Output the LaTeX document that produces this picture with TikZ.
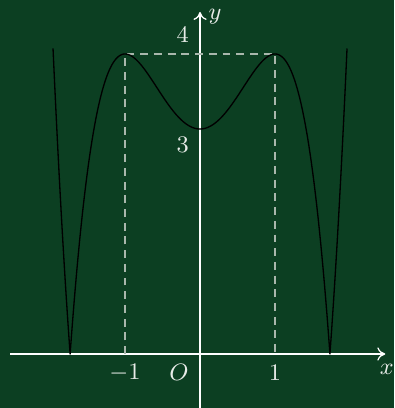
\documentclass[tikz,border=0pt]{standalone}
\usetikzlibrary{arrows.meta}
\definecolor{bg}{HTML}{0C3F22}
\definecolor{txt}{HTML}{E8ECE8}
\definecolor{dsh}{HTML}{A9B7AC}
\begin{document}
\begin{tikzpicture}[x=1cm,y=1cm,
  axis/.style={white,line width=0.5pt,-{To[length=3pt,width=5pt]}},
  guide/.style={dsh,line width=0.6pt,dash pattern=on 3pt off 2.2pt},
  curve/.style={black,line width=0.5pt,line join=round},
  lbl/.style={txt,font=\fontsize{9.5}{11}\selectfont,inner sep=0pt}]
\fill[bg] (-2.667,-0.72) rectangle (2.587,4.72);
\useasboundingbox (-2.667,-0.72) rectangle (2.587,4.72);
\coordinate (xs) at (-2.53,0);
\coordinate (xe) at (2.47,0);
\coordinate (ys) at (0,-0.72);
\coordinate (ye) at (0,4.56);
\coordinate (a0) at (-1,0);
\coordinate (a4) at (-1,4);
\coordinate (b0) at (1,0);
\coordinate (b4) at (1,4);
\draw[axis] (xs) -- (xe);
\draw[axis] (ys) -- (ye);
\draw[guide] (a0) -- (a4) -- (b4) -- (b0);
\draw[curve] plot[domain=-1.96:-1.7320508,samples=20] (\x,{abs(((\x)^2-1)^2-4)})
  -- plot[domain=-1.7320508:1.7320508,samples=200] (\x,{abs(((\x)^2-1)^2-4)})
  -- plot[domain=1.7320508:1.96,samples=20] (\x,{abs(((\x)^2-1)^2-4)});
\node[lbl] (lm1) at (-1,-0.25) {$-1$};
\node[lbl] (lO) at (-0.28,-0.25) {$O$};
\node[lbl] (l1) at (1,-0.25) {$1$};
\node[lbl] (l4) at (-0.23,4.25) {$4$};
\node[lbl] (l3) at (-0.23,2.79) {$3$};
\node[lbl] (ly) at (0.2,4.5) {$y$};
\node[lbl] (lx) at (2.49,-0.21) {$x$};
\end{tikzpicture}
\end{document}
